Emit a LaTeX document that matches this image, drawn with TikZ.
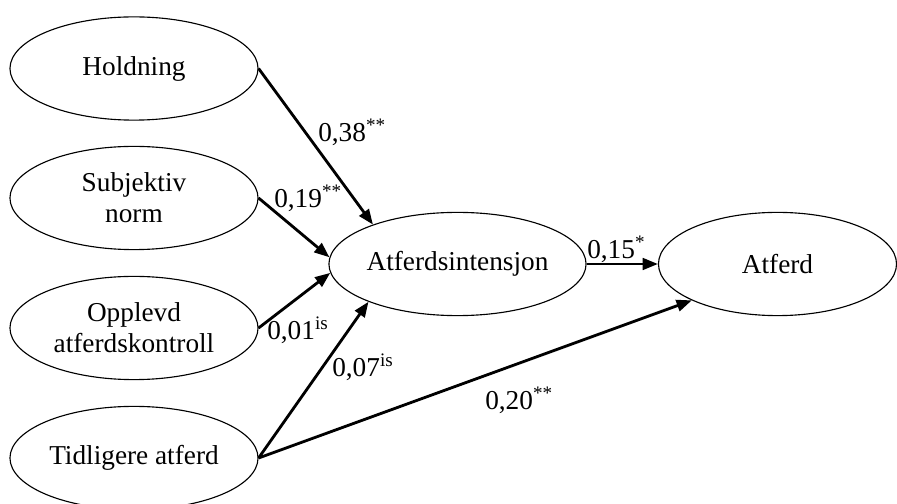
\documentclass[tikz,border=0pt]{standalone}
\usepackage{fontspec}
\setmainfont{Liberation Serif}
\usepackage{tikz}
\usetikzlibrary{arrows.meta, shapes.geometric}

\begin{document}
\begin{tikzpicture}[x=0.025cm, y=-0.025cm,
  var/.style={draw, ellipse, line width=0.8pt, minimum width=6.2cm, minimum height=2.58cm, inner sep=0pt, align=center, font=\fontsize{19.4}{22}\selectfont},
  arrow/.style={-{Triangle[length=3.8mm, width=2.9mm]}, line width=2pt},
  coef/.style={font=\fontsize{19.4}{22}\selectfont, inner sep=0pt}
]
  \useasboundingbox (0,0) rectangle (897,504);
  \node[var] (hold) at (134,68.5) {Holdning};
  \node[var] (subj) at (134,198) {Subjektiv\\norm};
  \node[var] (ctrl) at (134,328) {Opplevd\\atferdskontroll};
  \node[var] (prev) at (134,458) {Tidligere atferd};
  \node[var, minimum width=6.13cm] (int) at (457.5,264) {Atferdsintensjon};
  \node[var, minimum width=5.95cm] (beh) at (777.5,264) {Atferd};

  \draw[arrow] (hold.east) -- (int.155);
  \draw[arrow] (subj.east) -- (int.177);
  \draw[arrow] (ctrl.east) -- (int.184);
  \draw[arrow] (prev.east) -- (int.203);
  \draw[arrow] (prev.east) -- (beh.203);
  \draw[arrow] (int.east) -- (beh.west);

  % coefficients
  \node[coef, anchor=base west] (c1) at (318,142) {0,38\textsuperscript{**}};
  \node[coef, anchor=base west] (c2) at (274,208) {0,19\textsuperscript{**}};
  \node[coef, anchor=base west] (c3) at (267,340) {0,01\textsuperscript{is}};
  \node[coef, anchor=base west] (c4) at (332,377) {0,07\textsuperscript{is}};
  \node[coef, anchor=base west] (c5) at (587,259) {0,15\textsuperscript{*}};
  \node[coef, anchor=base west] (c6) at (485,410) {0,20\textsuperscript{**}};
\end{tikzpicture}
\end{document}
